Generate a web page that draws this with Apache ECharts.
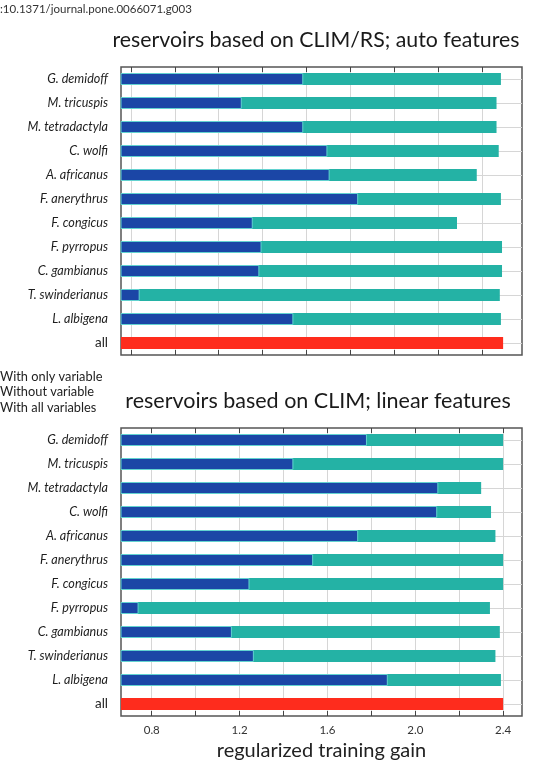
<!DOCTYPE html>
<html>
<head>
<meta charset="utf-8">
<script src="https://cdn.jsdelivr.net/npm/echarts@6/dist/echarts.min.js"></script>
<style>
  html, body { margin: 0; padding: 0; background: #fff; }
  #chart { width: 533px; height: 764px; }
</style>
</head>
<body>
<div id="chart"></div>
<script>
// categories, top to bottom
const species = ['G. demidoff', 'M. tricuspis', 'M. tetradactyla', 'C. wolfi', 'A. africanus',
  'F. anerythrus', 'F. congicus', 'F. pyrropus', 'C. gambianus', 'T. swinderianus', 'L. albigena', 'all'];
const seriesNames = ['With only variable', 'Without variable', 'With all variables'];

// reservoirs based on CLIM/RS; auto features
const topOnly    = [1.49, 1.21, 1.49, 1.60, 1.61, 1.74, 1.26, 1.30, 1.29, 0.745, 1.445, null];
const topWithout = [2.39, 2.37, 2.37, 2.38, 2.28, 2.39, 2.19, 2.395, 2.395, 2.385, 2.39, null];
const topAll     = [null, null, null, null, null, null, null, null, null, null, null, 2.40];

// reservoirs based on CLIM; linear features
const botOnly    = [1.78, 1.445, 2.105, 2.10, 1.74, 1.535, 1.245, 0.74, 1.165, 1.265, 1.875, null];
const botWithout = [2.40, 2.40, 2.30, 2.345, 2.365, 2.40, 2.40, 2.34, 2.385, 2.365, 2.39, null];
const botAll     = [null, null, null, null, null, null, null, null, null, null, null, 2.40];

// x axis
const xMin = 0.66, xMax = 2.486;
const botTicks = [0.8, 1.0, 1.2, 1.4, 1.6, 1.8, 2.0, 2.2, 2.4];
const botTickLabels = [0.8, 1.2, 1.6, 2.0, 2.4];
const topTicks = [0.705, 0.905, 1.105, 1.305, 1.505, 1.705, 1.905, 2.105, 2.305];

const FONT = 'Lato';
const BLUE = '#1b46a6', TEAL = '#24b2a5', RED = '#fe2c1d';

let chart = echarts.init(document.getElementById('chart'), null, { renderer: 'canvas' });

function xAxes(gridIndex, ticks, isBottomPanel) {
  return [
    {
      gridIndex: gridIndex, type: 'value', position: 'bottom', min: xMin, max: xMax,
      axisLine: { show: false },
      axisTick: { show: true, inside: true, length: 5, customValues: ticks, lineStyle: { color: '#444' } },
      splitLine: { show: true, lineStyle: { color: '#d6d6d6', width: 1 } },
      axisLabel: isBottomPanel
        ? { show: true, customValues: botTickLabels, margin: 8, color: '#333', fontSize: 11.5, fontFamily: FONT,
            formatter: v => v.toFixed(1) }
        : { show: false },
      name: isBottomPanel ? 'regularized training gain' : '',
      nameLocation: 'middle', nameGap: 25,
      nameTextStyle: { fontSize: 20, color: '#222', fontFamily: FONT }
    },
    {
      gridIndex: gridIndex, type: 'value', position: 'top', min: xMin, max: xMax,
      axisLine: { show: false },
      axisTick: { show: true, inside: true, length: 5, customValues: ticks, lineStyle: { color: '#444' } },
      splitLine: { show: false },
      axisLabel: { show: false }
    }
  ];
}

function yAxes(gridIndex) {
  return [
    {
      gridIndex: gridIndex, type: 'category', data: species, inverse: true, position: 'left',
      axisLine: { show: false }, axisTick: { show: false },
      axisLabel: {
        margin: 13,
        formatter: v => (v === 'all' ? '{n|' + v + '}' : '{i|' + v + '}'),
        rich: {
          i: { fontStyle: 'italic', fontSize: 12.6, color: '#1e1e1e', fontFamily: FONT },
          n: { fontSize: 13.5, color: '#1e1e1e', fontFamily: FONT }
        }
      }
    },
    {
      gridIndex: gridIndex, type: 'category', data: species, inverse: true, position: 'right',
      axisLine: { show: false },
      axisTick: { show: true, inside: true, length: 8, alignWithLabel: true, lineStyle: { color: '#444' } },
      axisLabel: { show: false }
    }
  ];
}

function panelSeries(axisOffset, only, without, all) {
  let xi = axisOffset, yi = axisOffset;
  return [
    {
      name: seriesNames[1], type: 'bar', xAxisIndex: xi, yAxisIndex: yi, data: without,
      barWidth: 12, barGap: '-100%', z: 2,
      itemStyle: { color: TEAL },
      markLine: {
        silent: true, symbol: 'none', z: 1, animation: false,
        label: { show: false },
        lineStyle: { color: '#d6d6d6', width: 1, type: 'solid' },
        data: species.map(s => ({ yAxis: s }))
      }
    },
    {
      name: seriesNames[0], type: 'bar', xAxisIndex: xi, yAxisIndex: yi, data: only,
      barWidth: 12, barGap: '-100%', z: 3,
      itemStyle: { color: BLUE, borderColor: '#62d2d0', borderWidth: 1 }
    },
    {
      name: seriesNames[2], type: 'bar', xAxisIndex: xi, yAxisIndex: yi, data: all,
      barWidth: 12, barGap: '-100%', z: 3,
      itemStyle: { color: RED }
    }
  ];
}

let option = {
  animation: false,
  backgroundColor: '#fff',
  textStyle: { fontFamily: FONT },
  title: [
    { text: ':10.1371/journal.pone.0066071.g003', left: 0, top: 3, padding: 0,
      textStyle: { fontSize: 11.5, fontWeight: 'normal', color: '#333', fontFamily: FONT } },
    { text: 'reservoirs based on CLIM/RS; auto features', left: 316, top: 30, padding: 0, textAlign: 'center',
      textStyle: { fontSize: 21.3, fontWeight: 'normal', color: '#1a1a1a', fontFamily: FONT } },
    { text: 'reservoirs based on CLIM; linear features', left: 318, top: 390, padding: 0, textAlign: 'center',
      textStyle: { fontSize: 21.5, fontWeight: 'normal', color: '#1a1a1a', fontFamily: FONT } }
  ],
  graphic: seriesNames.map((n, i) => ({
    type: 'text', left: 0, top: 370 + i * 15.5,
    style: { text: n, fontSize: 12.8, fill: '#222', fontFamily: FONT }
  })),
  grid: [
    { left: 121, right: 11, top: 67, height: 288, show: true, borderColor: '#555', borderWidth: 1.5, backgroundColor: 'transparent' },
    { left: 121, right: 11, top: 428, height: 288, show: true, borderColor: '#555', borderWidth: 1.5, backgroundColor: 'transparent' }
  ],
  xAxis: [...xAxes(0, topTicks, false), ...xAxes(1, botTicks, true)],
  yAxis: [...yAxes(0), ...yAxes(1)],
  series: [
    ...panelSeries(0, topOnly, topWithout, topAll),
    ...panelSeries(2, botOnly, botWithout, botAll)
  ]
};

chart.setOption(option);
</script>
</body>
</html>
